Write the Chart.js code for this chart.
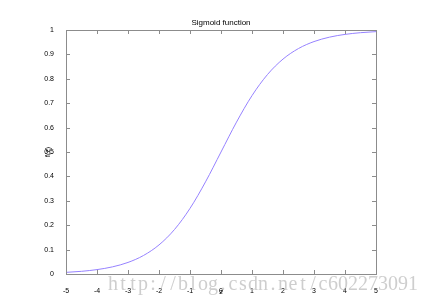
<!DOCTYPE html>
<html>
<head>
<meta charset="utf-8">
<script src="https://cdn.jsdelivr.net/npm/chart.js@4/dist/chart.umd.min.js"></script>
<style>
html,body{margin:0;padding:0;background:#fff;}
#wrap{width:430px;height:304px;}
</style>
</head>
<body>
<div id="wrap"><canvas id="c" width="430" height="304"></canvas></div>
<script>
const zValues = [-5,-4.5,-4,-3.5,-3,-2.5,-2,-1.5,-1,-0.5,0,0.5,1,1.5,2,2.5,3,3.5,4,4.5,5];
const fValues = [0.0067,0.0110,0.0180,0.0293,0.0474,0.0759,0.1192,0.1824,0.2689,0.3775,0.5,0.6225,0.7311,0.8176,0.8808,0.9241,0.9526,0.9707,0.9820,0.9890,0.9933];
const titleText = 'Sigmoid function';
const xLabel = 'z';
const yLabel = 'f(z)';
const watermark = 'http://blog.csdn.net/c602273091';

const tickFont = {family: 'Liberation Sans, Arial, sans-serif', size: 7};
const titleFont = {family: 'Liberation Sans, Arial, sans-serif', size: 8};
const boxColor = '#8c8c8c';

const inwardTicks = {
  id: 'inwardTicks',
  afterDraw(chart) {
    const ctx = chart.ctx;
    const a = chart.chartArea;
    const xs = chart.scales.x, ys = chart.scales.y;
    const len = 4;
    ctx.save();
    ctx.strokeStyle = boxColor;
    ctx.lineWidth = 1;
    ctx.beginPath();
    xs.ticks.forEach(t => {
      const px = Math.round(xs.getPixelForValue(t.value)) + 0.5;
      ctx.moveTo(px, a.bottom); ctx.lineTo(px, a.bottom - len);
      ctx.moveTo(px, a.top); ctx.lineTo(px, a.top + len);
    });
    ys.ticks.forEach(t => {
      const py = Math.round(ys.getPixelForValue(t.value)) + 0.5;
      ctx.moveTo(a.left, py); ctx.lineTo(a.left + len, py);
      ctx.moveTo(a.right, py); ctx.lineTo(a.right - len, py);
    });
    ctx.stroke();
    // watermark
    ctx.font = '20px "Liberation Serif", "DejaVu Serif", serif';
    ctx.fillStyle = 'rgba(190,190,190,0.75)';
    ctx.textBaseline = 'alphabetic';
    ctx.textAlign = 'center';
    const x0 = 108, step = 10;
    for (let i = 0; i < watermark.length; i++) {
      ctx.fillText(watermark[i], x0 + step * i + step / 2, 290);
    }
    ctx.restore();
  }
};

new Chart(document.getElementById('c'), {
  type: 'line',
  data: {
    datasets: [{
      data: zValues.map((z, i) => ({x: z, y: fValues[i]})),
      borderColor: 'rgb(150,130,255)',
      borderWidth: 1,
      pointRadius: 0,
      cubicInterpolationMode: 'monotone',
      fill: false
    }]
  },
  options: {
    responsive: false,
    devicePixelRatio: 1,
    animation: false,
    layout: {padding: 0},
    plugins: {legend: {display: false}, tooltip: {enabled: false}},
    scales: {
      x: {
        type: 'linear', position: 'bottom', min: -5, max: 5,
        ticks: {stepSize: 1, font: tickFont, color: '#000', padding: 5, maxRotation: 0},
        grid: {display: false},
        border: {display: true, color: boxColor, width: 1},
        title: {display: true, text: xLabel, font: tickFont, color: '#000', padding: {top: 0, bottom: 8}},
        afterFit(s) { s.height = 30; }
      },
      x2: {
        type: 'linear', position: 'top', min: -5, max: 5,
        ticks: {display: false, stepSize: 1},
        grid: {display: false},
        border: {display: true, color: boxColor, width: 1},
        title: {display: true, text: titleText, font: titleFont, color: '#000', padding: {top: 18, bottom: 0}},
        afterFit(s) { s.height = 30; }
      },
      y: {
        type: 'linear', position: 'left', min: 0, max: 1,
        ticks: {stepSize: 0.1, font: tickFont, color: '#000', padding: 4,
          callback: v => String(Math.round(v * 10) / 10)},
        grid: {display: false},
        border: {display: true, color: boxColor, width: 1},
        title: {display: true, text: yLabel, font: tickFont, color: '#000', padding: {top: 44, bottom: 0}},
        afterFit(s) { s.width = 66; }
      },
      y2: {
        type: 'linear', position: 'right', min: 0, max: 1,
        ticks: {display: false, stepSize: 0.1},
        grid: {display: false},
        border: {display: true, color: boxColor, width: 1},
        afterFit(s) { s.width = 54; }
      }
    }
  },
  plugins: [inwardTicks]
});
</script>
</body>
</html>
